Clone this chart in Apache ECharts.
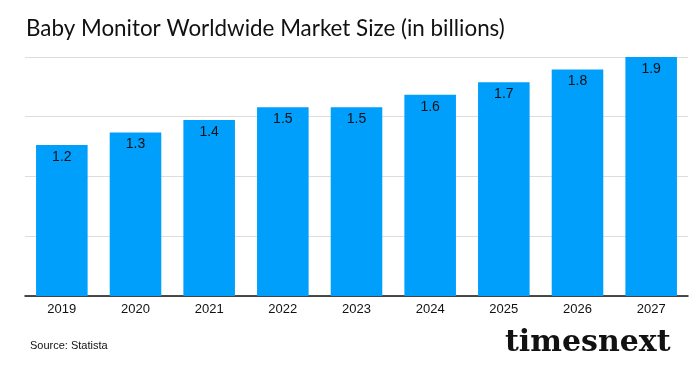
<!DOCTYPE html>
<html>
<head>
<meta charset="utf-8">
<script src="https://cdn.jsdelivr.net/npm/echarts@6/dist/echarts.min.js"></script>
<style>html,body{margin:0;padding:0;background:#fff}#c{width:700px;height:372px}</style>
</head>
<body>
<div id="c"></div>
<script>
const titleText = 'Baby Monitor Worldwide Market Size (in billions)';
const categories = ['2019','2020','2021','2022','2023','2024','2025','2026','2027'];
const marketSize = [1.2, 1.3, 1.4, 1.5, 1.5, 1.6, 1.7, 1.8, 1.9];
const sourceText = 'Source: Statista';
const brandText = 'timesnext';

const chart = echarts.init(document.getElementById('c'), null, {renderer: 'canvas'});
chart.setOption({
  backgroundColor: '#ffffff',
  animation: false,
  title: {
    text: titleText,
    left: 21, top: 13,
    textStyle: {fontFamily: 'Lato', fontWeight: 'normal', fontSize: 22.4, color: '#111'}
  },
  graphic: [
    {type: 'text', left: 30, top: 340, style: {text: sourceText, font: '11px "Liberation Sans", Arial, sans-serif', fill: '#111'}},
    {type: 'text', left: 505, top: 328, style: {text: brandText, font: 'bold 30px "DejaVu Serif", serif', fill: '#111'}}
  ],
  grid: {left: 25, right: 12, top: 57, bottom: 76},
  xAxis: {
    type: 'category',
    data: categories,
    axisTick: {show: false},
    axisLine: {lineStyle: {color: '#111', width: 1.5}},
    axisLabel: {fontFamily: 'Liberation Sans', fontSize: 13, color: '#111', margin: 7}
  },
  yAxis: {
    type: 'value',
    min: 0, max: 1.9, interval: 0.475,
    axisLabel: {show: false},
    axisLine: {show: false},
    axisTick: {show: false},
    splitLine: {lineStyle: {color: '#dddddd', width: 1}}
  },
  series: [{
    type: 'bar',
    data: marketSize,
    barCategoryGap: '30%',
    itemStyle: {color: '#019FFC'},
    label: {
      show: true, position: 'insideTop', distance: 5,
      fontFamily: 'Liberation Sans', fontSize: 14, color: '#111',
      formatter: p => p.value.toFixed(1)
    }
  }]
});
</script>
</body>
</html>
